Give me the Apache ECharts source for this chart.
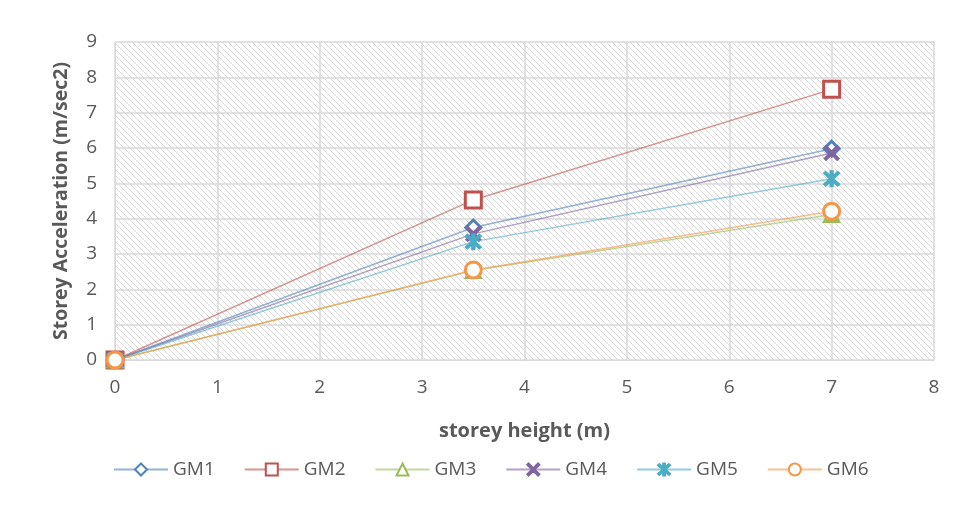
<!DOCTYPE html>
<html><head><meta charset="utf-8">
<script src="https://cdn.jsdelivr.net/npm/echarts@6/dist/echarts.min.js"></script>
<style>html,body{margin:0;padding:0;background:#fff}#c{width:958px;height:527px}</style>
</head><body><div id="c"></div>
<script>
const xValues = [0, 3.5, 7];
const gm1 = [0, 3.75, 5.98];
const gm2 = [0, 4.53, 7.66];
const gm3 = [0, 2.53, 4.12];
const gm4 = [0, 3.57, 5.86];
const gm5 = [0, 3.35, 5.13];
const gm6 = [0, 2.55, 4.21];
const seriesNames = ['GM1','GM2','GM3','GM4','GM5','GM6'];

const pc = document.createElement('canvas');
pc.width = 6; pc.height = 6;
const g = pc.getContext('2d');
g.strokeStyle = '#dadada';
g.lineWidth = 1;
for (let k = -6; k <= 12; k += 6) {
  g.beginPath(); g.moveTo(k, 0); g.lineTo(k + 6, 6); g.stroke();
}

const colors = ['#4F81BD','#C0504D','#9BBB59','#8064A2','#4BACC6','#F79646'];
const xPath = 'path://M1,0L5,4L9,0L10,1L6,5L10,9L9,10L5,6L1,10L0,9L4,5L0,1Z';
const starPath = 'path://M1,0L5,4L9,0L10,1L6,5L10,9L9,10L5,6L1,10L0,9L4,5L0,1ZM4.25,-0.5L5.75,-0.5L5.75,10.5L4.25,10.5Z';
const symbols = ['diamond','rect','triangle',xPath,starPath,'circle'];
const sizes = [15,16,14,14,15,16];
const isPath = [false,false,false,true,true,false];
const data = [gm1,gm2,gm3,gm4,gm5,gm6];
const font = '"Open Sans", sans-serif';

const chart = echarts.init(document.getElementById('c'));
chart.setOption({
  animation: false,
  grid: {left:115, right:24, top:42, bottom:167, show:true, borderWidth:0,
         backgroundColor:{image: pc, repeat:'repeat'}},
  xAxis: {type:'value', min:0, max:8, interval:1,
    name:'storey height (m)', nameLocation:'middle', nameGap:61,
    nameTextStyle:{fontFamily:font, fontSize:20, fontWeight:'bold', color:'#595959'},
    axisLine:{show:true, lineStyle:{color:'#d9d9d9'}}, axisTick:{show:false},
    axisLabel:{fontFamily:font, fontSize:19, color:'#595959', margin:18},
    splitLine:{show:true, lineStyle:{color:'#d9d9d9', width:1.5}}},
  yAxis: {type:'value', min:0, max:9, interval:1,
    name:'Storey Acceleration (m/sec2)', nameLocation:'middle', nameGap:44, nameRotate:90,
    nameTextStyle:{fontFamily:font, fontSize:19.5, fontWeight:'bold', color:'#595959'},
    axisLine:{show:true, lineStyle:{color:'#d9d9d9'}}, axisTick:{show:false},
    axisLabel:{fontFamily:font, fontSize:19, color:'#595959', margin:18},
    splitLine:{show:true, lineStyle:{color:'#d9d9d9', width:1.5}}},
  legend: {top:455, left:108, itemWidth:54, itemHeight:15, itemGap:29,
    textStyle:{fontFamily:font, fontSize:19, color:'#595959'}, data:seriesNames},
  series: seriesNames.map((n,i)=>({
    name:n, type:'line', data: xValues.map((x,j)=>[x, data[i][j]]),
    symbol: symbols[i], symbolSize: sizes[i], showAllSymbol:true,
    lineStyle:{color:colors[i], width:1.5, opacity:0.6},
    itemStyle: isPath[i]
      ? {color: colors[i], borderColor: colors[i], borderWidth: 2}
      : {color: '#ffffff', borderColor: colors[i], borderWidth: 3},
    z: 2+i
  }))
});
</script></body></html>
